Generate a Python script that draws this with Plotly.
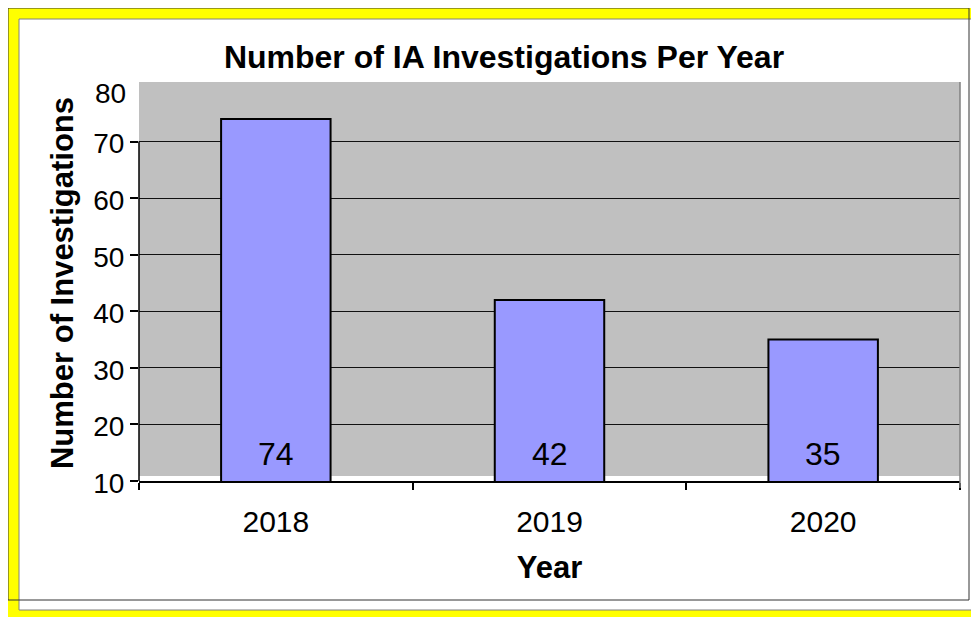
import plotly.graph_objects as go

years = ["2018", "2019", "2020"]
investigations = [74, 42, 35]
bar_labels = ["74", "42", "35"]
y_ticks = [10, 20, 30, 40, 50, 60, 70]

# The page adds an 8px body margin, so the figure is sized to fill the window.
OFF = 8
W, H = 979 - OFF, 617 - OFF
PLOT_L, PLOT_R, PLOT_T, PLOT_B = 139, 960, 85, 481  # page pixels
L, R, T, B = PLOT_L - OFF, W - (PLOT_R - OFF), PLOT_T - OFF, H - (PLOT_B - OFF)
PW, PH = W - L - R, H - T - B

def X(px):
    return (px - OFF - L) / PW

def Y(py):
    return (H - B - (py - OFF)) / PH

FONT = "Liberation Sans, Arial, sans-serif"

fig = go.Figure(go.Bar(
    x=years, y=investigations,
    marker=dict(color="#9999FF", line=dict(color="black", width=2)),
    width=0.4,
))

shapes = [
    dict(type="rect", xref="paper", yref="paper", x0=X(7), x1=X(980), y0=Y(618), y1=Y(7),
         fillcolor="#FFFF00", line=dict(color="#808000", width=1), layer="below"),
    dict(type="rect", xref="paper", yref="paper", x0=X(19), x1=X(978), y0=Y(610), y1=Y(19),
         fillcolor="white", line=dict(color="#808080", width=1), layer="below"),
    dict(type="rect", xref="paper", yref="paper", x0=X(8), x1=X(969), y0=Y(600), y1=Y(8),
         fillcolor="rgba(0,0,0,0)", line=dict(color="#333333", width=1), layer="below"),
    dict(type="rect", xref="paper", yref="paper", x0=0, x1=1, y0=Y(476), y1=Y(82),
         fillcolor="#C0C0C0", line=dict(width=0), layer="below"),
    dict(type="line", xref="paper", yref="paper", x0=1, x1=1, y0=Y(488), y1=Y(82),
         line=dict(color="#808080", width=1.5)),
    dict(type="line", xref="paper", yref="y", x0=0, x1=0, y0=10, y1=70,
         line=dict(color="black", width=1.5)),
]

annotations = [dict(text="80", xref="paper", yref="y", x=0, y=80, xanchor="right",
                    yanchor="middle", xshift=-11, yshift=-8, showarrow=False,
                    font=dict(family=FONT, size=28, color="black"))]
for i, lab in enumerate(bar_labels):
    annotations.append(dict(text=lab, xref="x", yref="y", x=i, y=10, xanchor="center",
                            yanchor="bottom", yshift=7, showarrow=False,
                            font=dict(family=FONT, size=32, color="black")))

fig.update_layout(
    width=W, height=H,
    margin=dict(l=L, r=R, t=T, b=B, autoexpand=False),
    paper_bgcolor="white",
    plot_bgcolor="rgba(0,0,0,0)",
    showlegend=False,
    font=dict(family=FONT, color="black"),
    title=dict(text="Number of IA Investigations Per Year",
               font=dict(family=FONT, size=32, weight="bold", color="black"),
               x=(504 - OFF) / W, xanchor="center", xref="container",
               y=1 - (57 - OFF) / H, yanchor="middle", yref="container"),
    shapes=shapes,
    annotations=annotations,
    bargap=0.6,
)

fig.update_xaxes(
    type="category", range=[-0.5, 2.5],
    showline=True, linecolor="black", linewidth=1.5,
    ticks="outside", tickson="boundaries", ticklen=7, tickcolor="black", tickwidth=1.5,
    tickfont=dict(family=FONT, size=30, color="black"),
    ticklabelstandoff=13,
    showgrid=False,
    title=dict(text="Year", font=dict(family=FONT, size=31, weight="bold", color="black"), standoff=20),
)
fig.update_yaxes(
    range=[10, 80], tickvals=y_ticks, showline=False,
    ticks="outside", ticklen=8, tickcolor="black", tickwidth=1.5,
    tickfont=dict(family=FONT, size=28, color="black"),
    ticklabelshift=2,
    showgrid=True, gridcolor="#111111", gridwidth=1, zeroline=False,
    title=dict(text="Number of Investigations", font=dict(family=FONT, size=31, weight="bold", color="black"), standoff=10),
)

fig.write_html("out.html")
